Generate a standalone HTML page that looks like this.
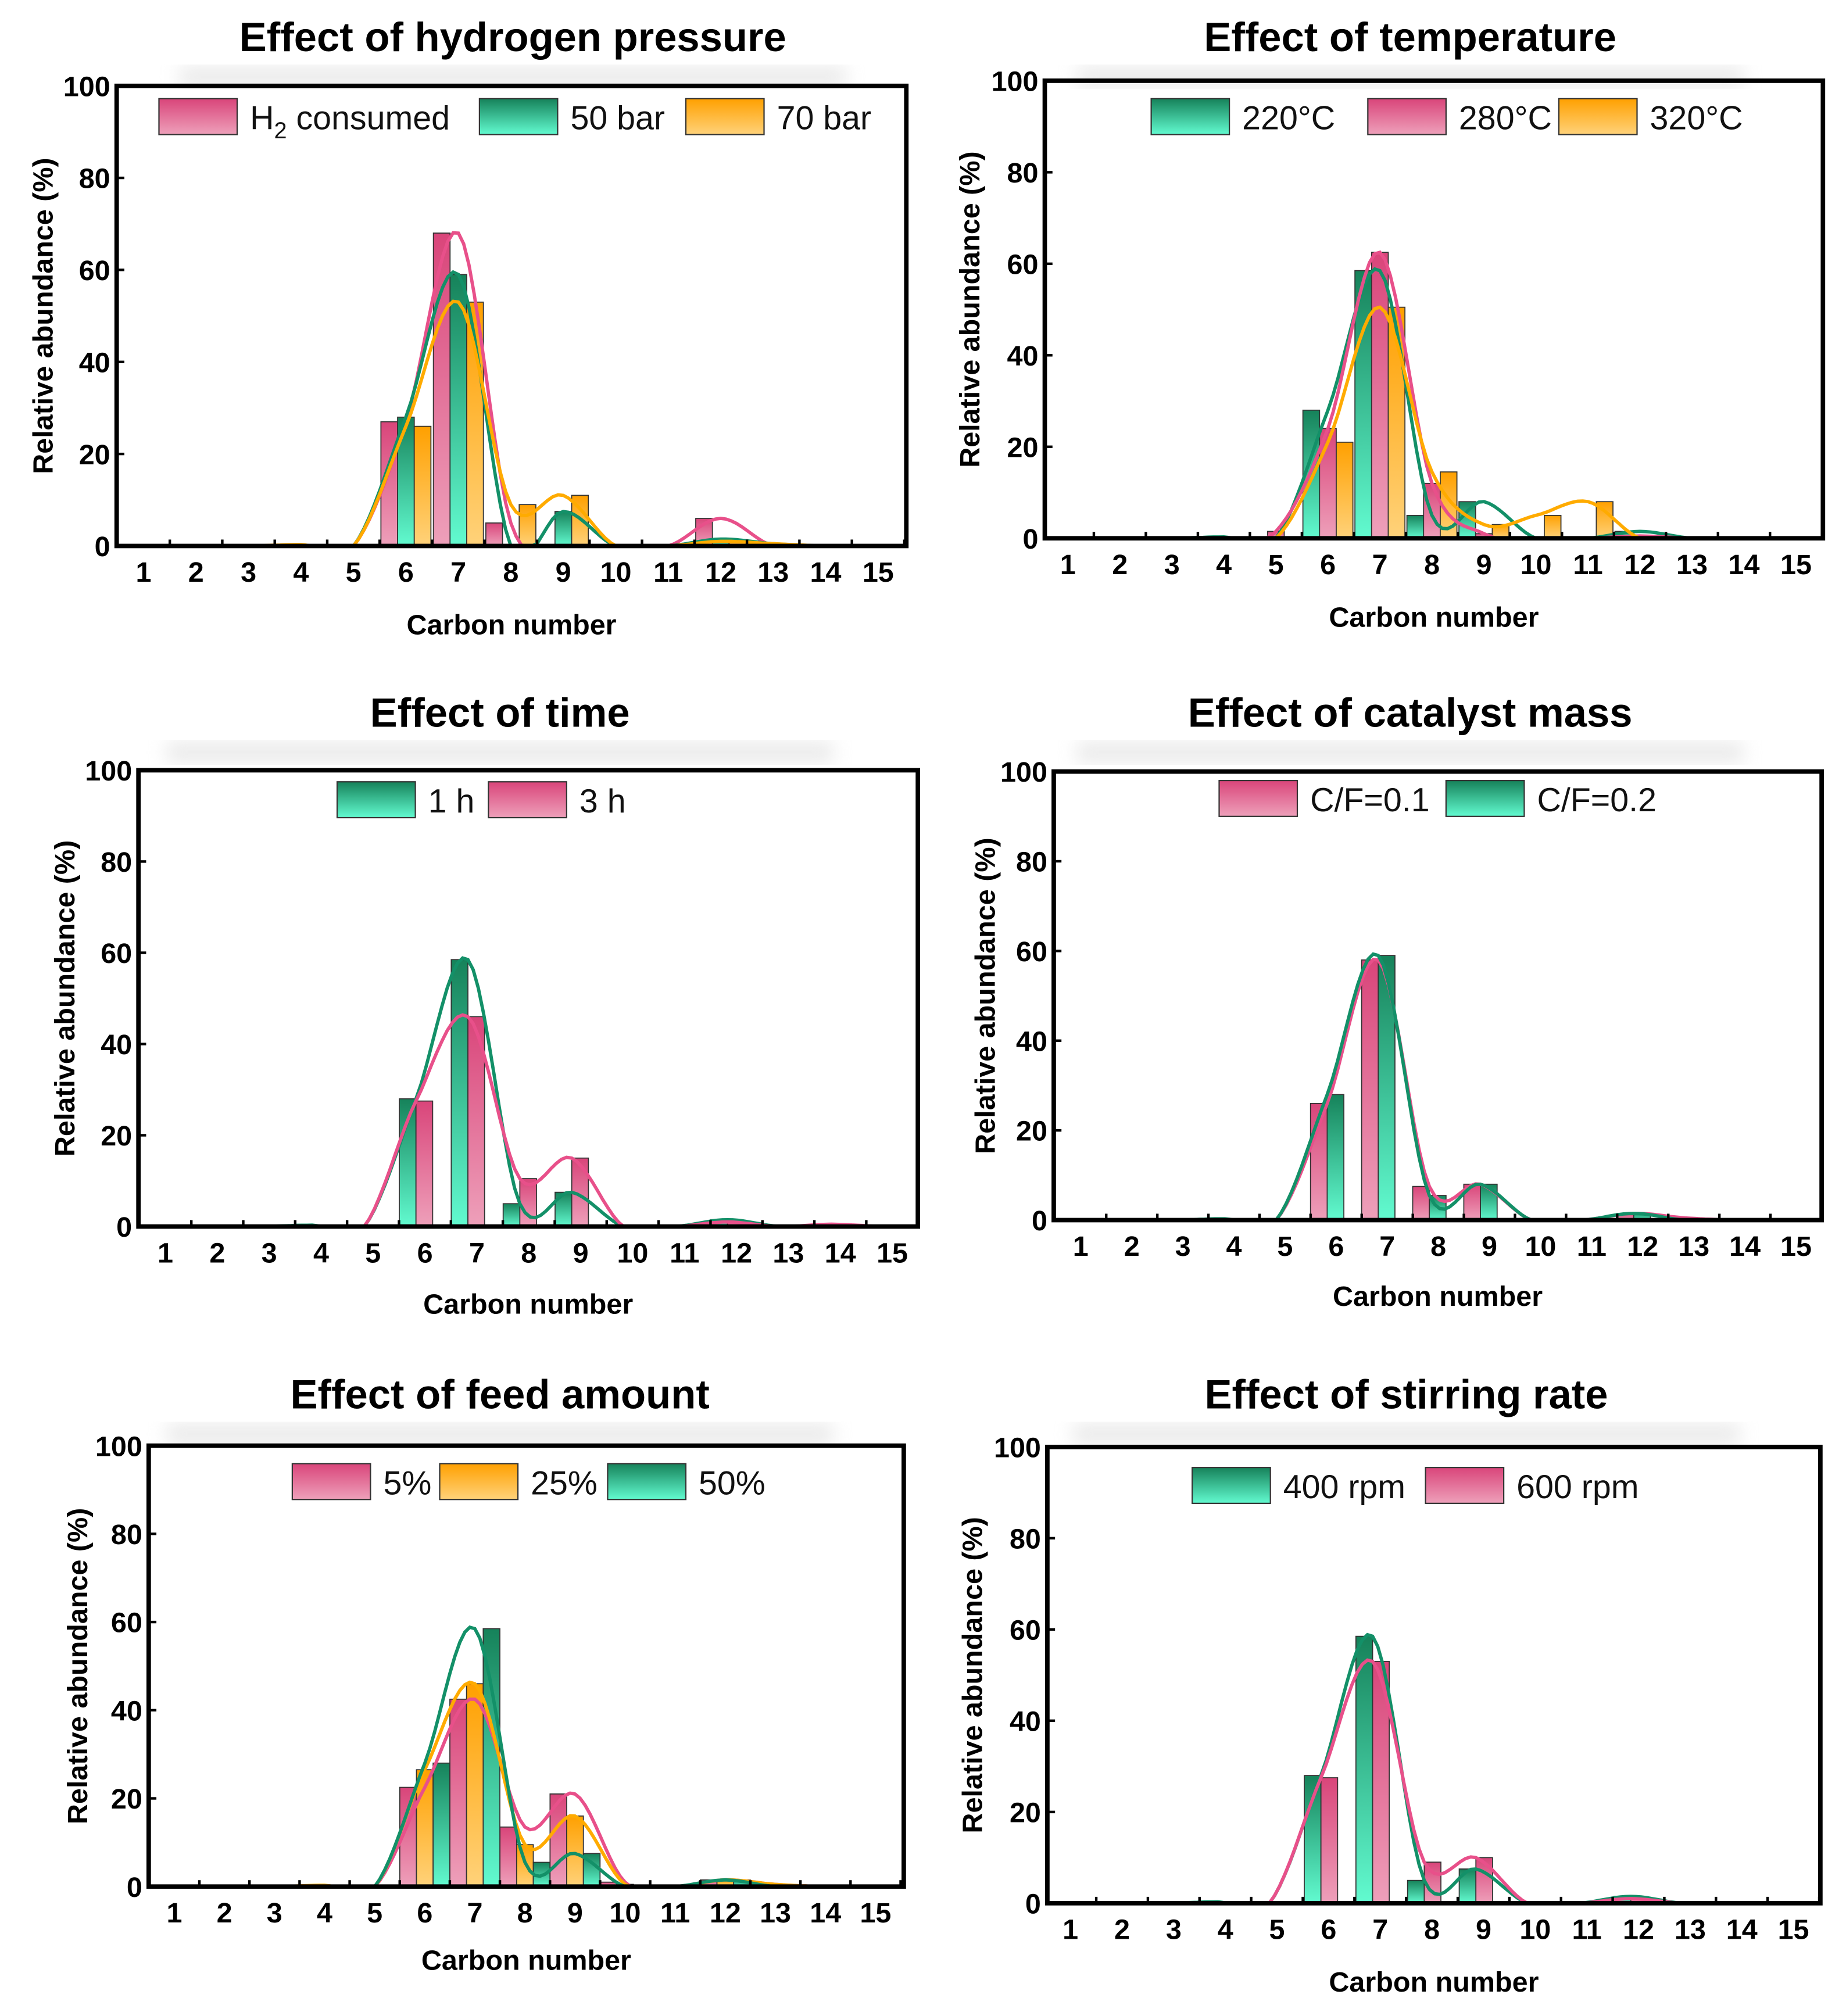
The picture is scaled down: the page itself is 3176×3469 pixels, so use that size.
<!DOCTYPE html>
<html><head><meta charset="utf-8"><style>
html,body{margin:0;padding:0;background:#fff;}
svg{display:block;}
text{font-family:"Liberation Sans",Arial,sans-serif;}
</style></head><body>
<svg id="fig" xmlns="http://www.w3.org/2000/svg" width="3176" height="3469" viewBox="0 0 1440 1573" preserveAspectRatio="none">
<defs>
<linearGradient id="gPink" x1="0" y1="0" x2="0" y2="1"><stop offset="0" stop-color="#d9457a"/><stop offset="1" stop-color="#eea0ba"/></linearGradient>
<linearGradient id="gGreen" x1="0" y1="0" x2="0" y2="1"><stop offset="0" stop-color="#16825a"/><stop offset="1" stop-color="#62fbd0"/></linearGradient>
<linearGradient id="gOrange" x1="0" y1="0" x2="0" y2="1"><stop offset="0" stop-color="#ffa000"/><stop offset="1" stop-color="#ffd27a"/></linearGradient>
<filter id="blur"><feGaussianBlur stdDeviation="7"/></filter>
</defs>
</svg>
<script>
const carbons = [1,2,3,4,5,6,7,8,9,10,11,12,13,14,15];
const yTicks = [0,20,40,60,80,100];
// Panel 1: hydrogen pressure
const p1H2 =   [0,0,0,0,0,27,68,5,0,0,0,6,0,0,0];
const p1Bar50 =[0,0,0,0,0,28,59,0,7.5,0,0,1.5,0.5,0,0];
const p1Bar70 =[0,0,0,0.3,0,26,53,9,11,0,0,1,0.5,0,0];
// Panel 2: temperature
const p2T220 = [0,0,0,0.3,0,28,58.5,5,8,0,0,1.5,0,0,0];
const p2T280 = [0,0,0,0,1.5,24,62.5,12,1,0,0,0.5,0,0,0];
const p2T320 = [0,0,0,0,0,21,50.5,14.5,3,5,8,0,0,0,0];
// Panel 3: time
const p3H1 = [0,0,0,0.3,0,28,58.5,5,7.5,0,0,1.5,0,0,0];
const p3H3 = [0,0,0,0,0,27.5,46,10.5,15,0,0,1,0,0.5,0];
// Panel 4: catalyst mass
const p4CF01 = [0,0,0,0,0,26,58,7.5,8,0,0,1.5,0.5,0,0];
const p4CF02 = [0,0,0,0.3,0,28,59,5.5,8,0,0,1.5,0,0,0];
// Panel 5: feed amount
const p5F5 =  [0,0,0,0,0,22.5,42.5,13.5,21,1,0,1.5,0.5,0,0];
const p5F25 = [0,0,0,0.3,0,26.5,46,9.5,16,0.5,0,1.5,0.5,0,0];
const p5F50 = [0,0,0,0,0,28,58.5,5.5,7.5,0,0,1.5,0,0,0];
// Panel 6: stirring rate
const p6R400 = [0,0,0,0.3,0,28,58.5,5,7.5,0,0,1.5,0,0,0];
const p6R600 = [0,0,0,0,0,27.5,53,9,10,0,0,1,0,0,0];

const COL = {pink:{fill:'url(#gPink)',line:'#e8508a'},green:{fill:'url(#gGreen)',line:'#139068'},orange:{fill:'url(#gOrange)',line:'#ffab00'}};
const NS='http://www.w3.org/2000/svg';
const svg=document.getElementById('fig');
function mk(tag,attrs,parent){const e=document.createElementNS(NS,tag);for(const k in attrs)e.setAttribute(k,attrs[k]);(parent||svg).appendChild(e);return e;}

const panels=[
 {name:'hydrogen-pressure',title:'Effect of hydrogen pressure',tx:400,ty:40,x0:91,x1:707,y0:67,y1:426,c1:112,c15:685,off:0,xl:487,yl:25,
  series:[{n:'H2 consumed',c:'pink',d:p1H2},{n:'50 bar',c:'green',d:p1Bar50},{n:'70 bar',c:'orange',d:p1Bar70}],
  leg:[[124,'H2'],[374,'50 bar'],[535,'70 bar']],ly:77},
 {name:'temperature',title:'Effect of temperature',tx:1100,ty:40,x0:815,x1:1422,y0:63,y1:420,c1:833,c15:1401,off:0,xl:481,yl:748,
  series:[{n:'220C',c:'green',d:p2T220},{n:'280C',c:'pink',d:p2T280},{n:'320C',c:'orange',d:p2T320}],
  leg:[[898,'220°C'],[1067,'280°C'],[1216,'320°C']],ly:77},
 {name:'time',title:'Effect of time',tx:390,ty:567,x0:108,x1:716,y0:601,y1:957,c1:129,c15:696,off:-7,xl:1017,yl:42,
  series:[{n:'1 h',c:'green',d:p3H1},{n:'3 h',c:'pink',d:p3H3}],
  leg:[[263,'1 h'],[381,'3 h']],ly:610},
 {name:'catalyst-mass',title:'Effect of catalyst mass',tx:1100,ty:567,x0:822,x1:1421,y0:602,y1:952,c1:843,c15:1401,off:-7,xl:1011,yl:760,
  series:[{n:'C/F=0.1',c:'pink',d:p4CF01},{n:'C/F=0.2',c:'green',d:p4CF02}],
  leg:[[951,'C/F=0.1'],[1128,'C/F=0.2']],ly:609},
 {name:'feed-amount',title:'Effect of feed amount',tx:390,ty:1099,x0:116,x1:705,y0:1128,y1:1472,c1:136,c15:683,off:0,xl:1529,yl:52,
  series:[{n:'5%',c:'pink',d:p5F5},{n:'25%',c:'orange',d:p5F25},{n:'50%',c:'green',d:p5F50}],
  leg:[[228,'5%'],[343,'25%'],[474,'50%']],ly:1142},
 {name:'stirring-rate',title:'Effect of stirring rate',tx:1097,ty:1099,x0:817,x1:1420,y0:1129,y1:1485,c1:835,c15:1399,off:-6,xl:1546,yl:750,
  series:[{n:'400 rpm',c:'green',d:p6R400},{n:'600 rpm',c:'pink',d:p6R600}],
  leg:[[930,'400 rpm'],[1112,'600 rpm']],ly:1145}
];

panels.forEach(p=>{
  const g=mk('g',{});
  
  
  const step=(p.c15-p.c1)/14;
  const xs=c=>p.c1+(c-1)*step;
  const ys=v=>p.y1-(v/100)*(p.y1-p.y0);
  const sm=mk('rect',{x:p.tx-260,y:p.ty+12,width:520,height:16,fill:'#dcdcdc',filter:'url(#blur)',opacity:0.6},g);
  
  
  const t=mk('text',{x:p.tx,y:p.ty,'text-anchor':'middle','font-size':32,'font-weight':'bold',fill:'#000'},g);
  t.textContent=p.title;
  
  
  const bw=13,ns=p.series.length;
  p.series.forEach((s,si)=>{
    carbons.forEach((c,i)=>{
      const v=s.d[i]; if(v<=0) return;
      const cx=xs(c)+p.off-(ns*bw)/2+si*bw;
      const r=mk('rect',{x:cx,y:ys(v),width:bw,height:ys(0)-ys(v),fill:COL[s.c].fill,stroke:'#333',"stroke-width":0.8},g);
      
      
    });
  });
  p.series.forEach((s,si)=>{
    const pts=carbons.map((c,i)=>[xs(c)+p.off,s.d[i]]);
    let path='';
    for(let i=0;i<pts.length-1;i++){
      const a=pts[Math.max(0,i-1)],b=pts[i],c=pts[i+1],d=pts[Math.min(pts.length-1,i+2)];
      for(let k=0;k<=10;k++){
        const tt=k/10,t2=tt*tt,t3=t2*tt;
        const v=0.5*((2*b[1])+(-a[1]+c[1])*tt+(2*a[1]-5*b[1]+4*c[1]-d[1])*t2+(-a[1]+3*b[1]-3*c[1]+d[1])*t3);
        const x=b[0]+(c[0]-b[0])*tt;
        path+=(path?'L':'M')+x.toFixed(1)+','+ys(Math.max(0,v)).toFixed(1);
      }
    }
    const l=mk('path',{d:path,fill:'none',stroke:COL[s.c].line,'stroke-width':2.6},g);
    
    
  });
  const f=mk('rect',{x:p.x0,y:p.y0,width:p.x1-p.x0,height:p.y1-p.y0,fill:'none',stroke:'#000','stroke-width':3.5},g);
  
  
  yTicks.forEach(v=>{
    const tl=mk('line',{x1:p.x0,x2:p.x0+6,y1:ys(v),y2:ys(v),stroke:'#000','stroke-width':2},g);
    
    
    const tx=mk('text',{x:p.x0-5,y:ys(v)+8,'text-anchor':'end','font-size':22,'font-weight':'bold'},g);
    tx.textContent=v;
    
    
  });
  carbons.forEach(c=>{
    const tl=mk('line',{x1:xs(c)+step/2,x2:xs(c)+step/2,y1:p.y1,y2:p.y1-5,stroke:'#000','stroke-width':2},g);
    
    
    const tx=mk('text',{x:xs(c),y:p.y1+28,'text-anchor':'middle','font-size':22,'font-weight':'bold'},g);
    tx.textContent=c;
    
    
  });
  const xl=mk('text',{x:(p.x0+p.x1)/2,y:p.xl+8,'text-anchor':'middle','font-size':22,'font-weight':'bold'},g);
  xl.textContent='Carbon number';
  
  
  const ym=(p.y0+p.y1)/2;
  const yl=mk('text',{x:p.yl+8,y:ym+8,'text-anchor':'middle','font-size':22,'font-weight':'bold',transform:'rotate(-90 '+(p.yl+8)+' '+ym+')'},g);
  yl.textContent='Relative abundance (%)';
  
  
  p.leg.forEach((L,i)=>{
    const s=p.series[i];
    const sw=mk('rect',{x:L[0],y:p.ly,width:61,height:28,fill:COL[s.c].fill,stroke:'#333','stroke-width':1},g);
    
    
    const tx=mk('text',{x:L[0]+71,y:p.ly+24,'font-size':26,fill:'#111'},g);
    if(L[1]==='H2'){
      tx.textContent='H';
      const sub=mk('tspan',{dy:7,'font-size':18},tx);sub.textContent='2';
      const rest=mk('tspan',{dy:-7},tx);rest.textContent=' consumed';
    } else tx.textContent=L[1];
    
    
  });
});
</script>
</body></html>
